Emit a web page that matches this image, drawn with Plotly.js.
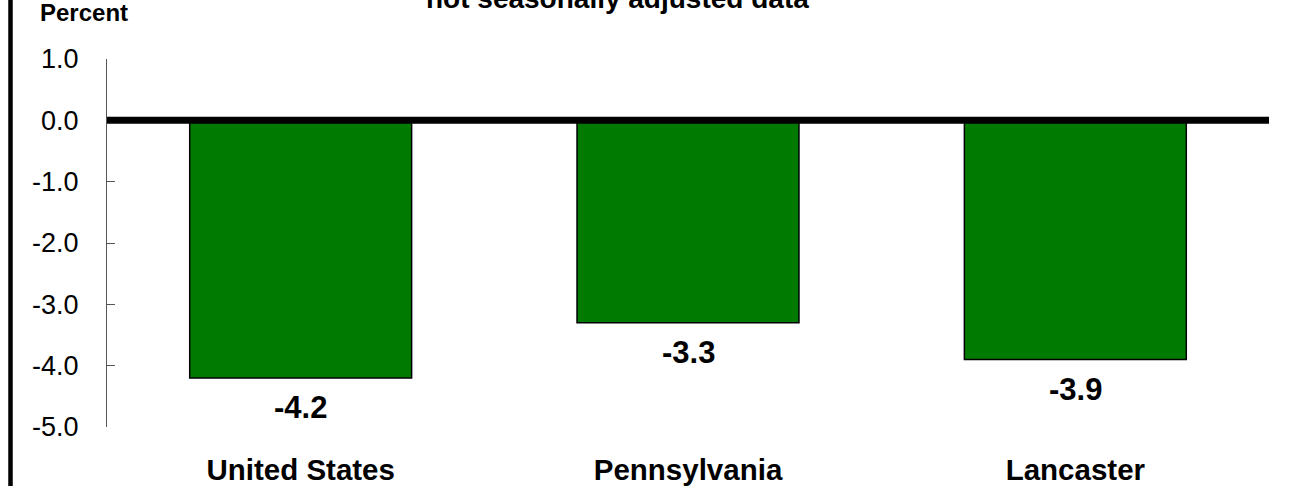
<!DOCTYPE html>
<html>
<head>
<meta charset="utf-8">
<script src="https://cdn.plot.ly/plotly-3.0.1.min.js"></script>
<style>html,body{margin:0;padding:0;background:#fff;}#chart{width:1298px;height:486px;}</style>
</head>
<body>
<div id="chart"></div>
<script>
const categories = ["United States", "Pennsylvania", "Lancaster"];
const values = [-4.2, -3.3, -3.9];
const yTickVals = [1, 0, -1, -2, -3, -4, -5];
const yTickText = ["1.0", "0.0", "-1.0", "-2.0", "-3.0", "-4.0", "-5.0"];
const titleText = "not seasonally adjusted data";
const yLabel = "Percent";

const FONT = "Liberation Sans, Arial, Helvetica, sans-serif";
const W = 1298, H = 486;
const L = 107, R = 29, T = 59, B = 59;
const pw = W - L - R, ph = H - T - B;
const px2x = p => (p - L) / pw;
const px2y = p => (H - B - p) / ph;

const trace = {
  type: "bar",
  x: categories,
  y: values,
  marker: { color: "#007A00", line: { color: "#000000", width: 1.5 } },
  hoverinfo: "none"
};

const annotations = categories.map((c, i) => ({
  x: c, y: values[i], xref: "x", yref: "y",
  text: values[i].toFixed(1),
  showarrow: false, xanchor: "center", yanchor: "middle", yshift: -30,
  font: { family: FONT, size: 31, color: "#000", weight: "bold" }
}));
annotations.push({
  x: px2x(617), y: px2y(-1), xref: "paper", yref: "paper",
  text: titleText, showarrow: false, xanchor: "center", yanchor: "middle",
  font: { family: FONT, size: 28, color: "#000", weight: "bold" }
});
annotations.push({
  x: px2x(38), y: px2y(12.5), xref: "paper", yref: "paper",
  text: yLabel, showarrow: false, xanchor: "left", yanchor: "middle",
  font: { family: FONT, size: 24, color: "#000", weight: "bold" }
});

const layout = {
  width: W, height: H,
  margin: { l: L, r: R, t: T, b: B, pad: 0 },
  paper_bgcolor: "#fff", plot_bgcolor: "#fff",
  showlegend: false,
  bargap: 0.427,
  font: { family: FONT, color: "#000" },
  xaxis: {
    type: "category",
    showline: false, showgrid: false, zeroline: false, ticks: "",
    tickfont: { family: FONT, size: 29.5, color: "#000", weight: "bold" },
    ticklabelstandoff: 22
  },
  yaxis: {
    range: [-5, 1], tickvals: yTickVals, ticktext: yTickText,
    showline: true, linecolor: "#555", linewidth: 1,
    ticks: "inside", ticklen: 8, tickcolor: "#555", tickwidth: 1,
    showgrid: false, zeroline: false,
    tickfont: { family: FONT, size: 27, color: "#000" },
    ticklabelstandoff: 22
  },
  shapes: [
    { type: "line", xref: "paper", yref: "y", x0: 0, x1: 1, y0: 0, y1: 0,
      line: { color: "#000", width: 7 }, layer: "above" },
    { type: "line", xref: "paper", yref: "paper", x0: px2x(10.5), x1: px2x(10.5),
      y0: px2y(0), y1: px2y(H), line: { color: "#000", width: 4.5 }, layer: "above" }
  ],
  annotations: annotations
};

Plotly.newPlot("chart", [trace], layout, { displayModeBar: false, staticPlot: true });
</script>
</body>
</html>
